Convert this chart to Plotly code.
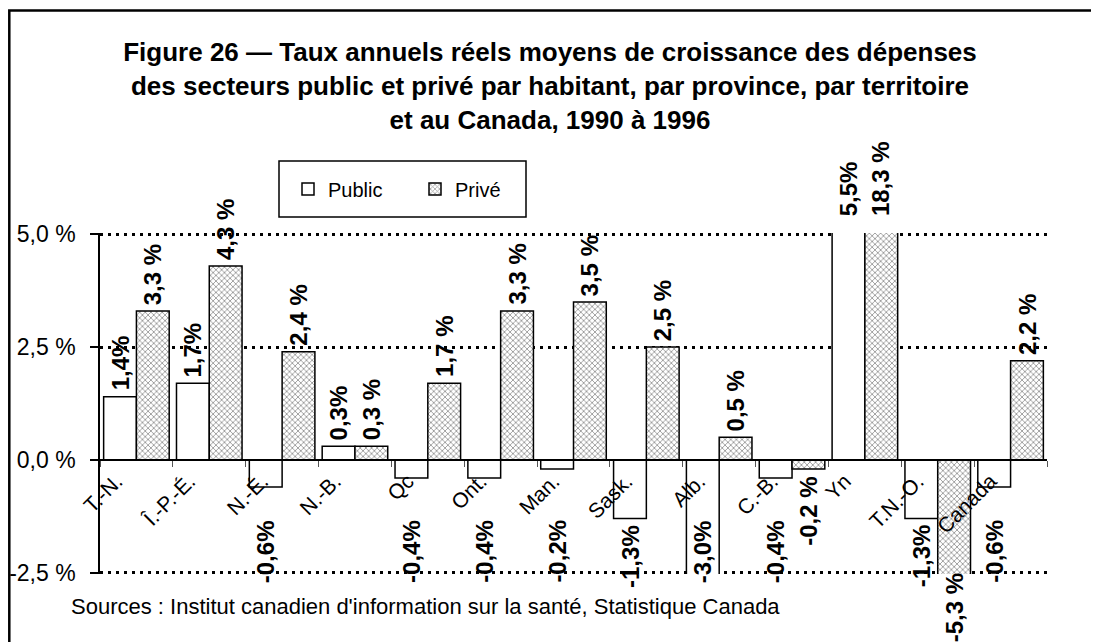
import plotly.graph_objects as go

# ---------------- data ----------------
categories = ["T.-N.", "Î.-P.-É.", "N.-É.", "N.-B.", "Qc", "Ont.", "Man.",
              "Sask.", "Alb.", "C.-B.", "Yn", "T.N.-O.", "Canada"]
public_values = [1.4, 1.7, -0.6, 0.3, -0.4, -0.4, -0.2, -1.3, -3.0, -0.4, 5.5, -1.3, -0.6]
private_values = [3.3, 4.3, 2.4, 0.3, 1.7, 3.3, 3.5, 2.5, 0.5, -0.2, 18.3, -5.3, 2.2]
series_names = ["Public", "Privé"]
y_tick_values = [-2.5, 0.0, 2.5, 5.0]
y_tick_labels = ["-2,5 %", "0,0 %", "2,5 %", "5,0 %"]

title_lines = [
    "Figure 26 — Taux annuels réels moyens de croissance des dépenses",
    "des secteurs public et privé par habitant, par province, par territoire",
    "et au Canada, 1990 à 1996",
]
source_text = "Sources : Institut canadien d'information sur la santé, Statistique Canada"

# ---------------- style constants ----------------
Y_MIN, Y_MAX = -2.5, 5.0
RANGE_PAD = 0.03            # keeps the grid lines at -2,5 % and 5,0 % visible
BARGAP = 0.1
FONT = "Liberation Sans, Arial, sans-serif"
PAGE_OFFSET = 8             # default body margin of the html page
W, H = 1099 - PAGE_OFFSET, 642 - PAGE_OFFSET
M_L, M_R, M_T, M_B = 92, 52, 225, 68
PUBLIC_NEG_LABEL_TOP = -1.2   # public negative labels sit below the category names


def px_to_paper_x(sx):
    return (sx - PAGE_OFFSET - M_L) / (W - M_L - M_R)


def px_to_paper_y(sy):
    return (H - M_B - (sy - PAGE_OFFSET)) / (H - M_T - M_B)


def fmt(v, sep):
    return "<b>" + f"{v:.1f}".replace(".", ",") + sep + "%</b>"


fig = go.Figure()
fig.add_trace(go.Bar(
    name=series_names[0], x=categories, y=public_values,
    marker=dict(color="white", line=dict(color="black", width=1.5)),
))
fig.add_trace(go.Bar(
    name=series_names[1], x=categories, y=private_values,
    marker=dict(color="white", line=dict(color="black", width=1.5),
                pattern=dict(shape="x", size=4, solidity=0.4,
                             fgcolor="#333333", bgcolor="white", fillmode="overlay")),
))

# ---------------- data labels ----------------
half = (1 - BARGAP) / 4
annotations = []
for s, (vals, sep, dx) in enumerate([(public_values, "", -half), (private_values, " ", half)]):
    for i, v in enumerate(vals):
        if v >= 0:
            y, ya = min(v, Y_MAX), "bottom"
            ys = 16 if v > Y_MAX else 4
        else:
            if s == 0:
                y = min(v, PUBLIC_NEG_LABEL_TOP) if v >= Y_MIN else PUBLIC_NEG_LABEL_TOP
                ys = -4
            else:
                y = max(v, Y_MIN)
                ys = 1 if v < Y_MIN else -6
            ya = "top"
        annotations.append(dict(
            x=i + dx, y=y, xref="x", yref="y", text=fmt(v, sep),
            textangle=-90, showarrow=False, xanchor="center", yanchor=ya, yshift=ys,
            font=dict(family=FONT, size=24, color="black"),
        ))

annotations.append(dict(
    x=px_to_paper_x(69), y=px_to_paper_y(606), xref="paper", yref="paper",
    text=source_text, showarrow=False, xanchor="left", yanchor="middle",
    font=dict(family=FONT, size=22, color="black"),
))

shapes = [
    # outer frame (left edge kept just inside the page area)
    dict(type="rect", xref="paper", yref="paper",
         x0=px_to_paper_x(PAGE_OFFSET + 1.3), x1=px_to_paper_x(1120),
         y0=px_to_paper_y(680), y1=px_to_paper_y(10.5),
         line=dict(color="black", width=2.5), fillcolor="rgba(0,0,0,0)", layer="below"),
    # legend frame
    dict(type="rect", xref="paper", yref="paper",
         x0=px_to_paper_x(279), x1=px_to_paper_x(526),
         y0=px_to_paper_y(217), y1=px_to_paper_y(161),
         line=dict(color="black", width=1.5), fillcolor="white", layer="below"),
]

fig.update_layout(
    width=W, height=H,
    margin=dict(l=M_L, r=M_R, t=M_T, b=M_B, autoexpand=False),
    paper_bgcolor="white", plot_bgcolor="white",
    barmode="group", bargap=BARGAP, bargroupgap=0,
    font=dict(family=FONT, color="black"),
    title=dict(text="<br>".join(title_lines), x=(550 - PAGE_OFFSET) / W, xanchor="center",
               y=1 - 53 / H, yanchor="top",
               font=dict(family=FONT, size=26, color="black", weight="bold")),
    showlegend=True,
    legend=dict(orientation="h", x=px_to_paper_x(288), xanchor="left",
                y=px_to_paper_y(189), yanchor="middle",
                bgcolor="rgba(0,0,0,0)", borderwidth=0,
                font=dict(family=FONT, size=20, color="black"),
                entrywidth=82, entrywidthmode="pixels"),
    annotations=annotations,
    shapes=shapes,
    xaxis=dict(type="category", anchor="free",
               position=(0 - Y_MIN + RANGE_PAD) / (Y_MAX - Y_MIN + 2 * RANGE_PAD),
               showline=True, linecolor="black", linewidth=1.5,
               ticks="outside", tickson="boundaries", ticklen=6, tickwidth=1,
               tickcolor="#555555", tickangle=-45, showgrid=False,
               ticklabelshift=-20,
               tickfont=dict(family=FONT, size=21, color="black")),
    yaxis=dict(range=[Y_MIN - RANGE_PAD, Y_MAX + RANGE_PAD],
               tickvals=y_tick_values, ticktext=y_tick_labels,
               ticks="outside", ticklen=8, tickwidth=1.5, tickcolor="black",
               showline=True, linecolor="black", linewidth=1.5,
               showgrid=True, gridcolor="black", gridwidth=2.5, griddash="3px,5px",
               zeroline=True, zerolinecolor="black", zerolinewidth=1.5,
               ticklabelstandoff=10,
               tickfont=dict(family=FONT, size=23, color="black")),
)

fig.write_html("out.html")
